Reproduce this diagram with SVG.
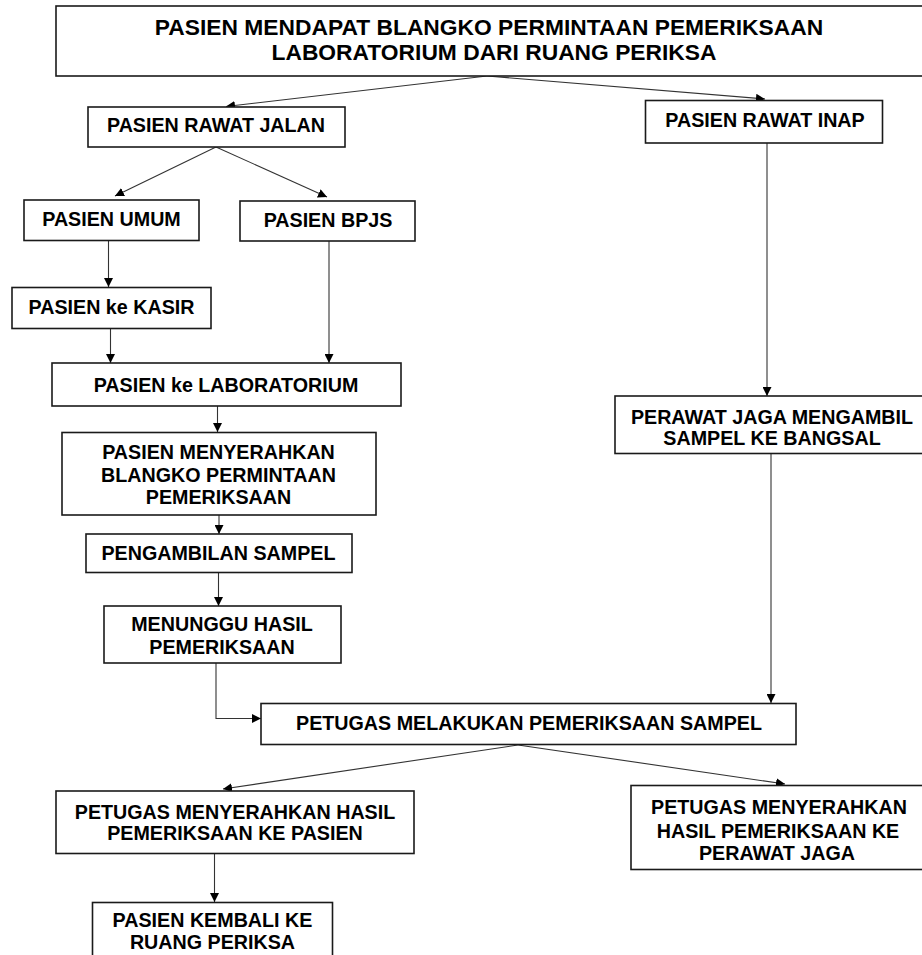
<svg xmlns="http://www.w3.org/2000/svg" width="922" height="955" viewBox="0 0 922 955">
<style>
.box{fill:#fff;stroke:#1a1a1a;stroke-width:1.6}
.t{font-family:"Liberation Sans",Arial,sans-serif;font-weight:bold;font-size:19.7px;fill:#000;text-anchor:middle}
.tb{font-size:22.8px}
.c{fill:none;stroke:#333;stroke-width:1.1}
</style>
<defs>
<marker id="ah" markerUnits="userSpaceOnUse" markerWidth="9" markerHeight="9" viewBox="0 0 10 10" refX="10" refY="5" orient="auto">
<path d="M0,0 L10,5 L0,10 z" fill="#000"/>
</marker>
</defs>
<rect width="922" height="955" fill="#fff"/>
<g id="connectors">
<path class="c" marker-end="url(#ah)" d="M487,76 L226,106.5"/>
<path class="c" marker-end="url(#ah)" d="M487,76 L765,99"/>
<path class="c" marker-end="url(#ah)" d="M216,147 L115,196"/>
<path class="c" marker-end="url(#ah)" d="M216,147 L327,197"/>
<path class="c" marker-end="url(#ah)" d="M108.5,241 L108.5,287"/>
<path class="c" marker-end="url(#ah)" d="M110.5,328.5 L110.5,363"/>
<path class="c" marker-end="url(#ah)" d="M329,241 L329,363"/>
<path class="c" marker-end="url(#ah)" d="M217.5,406 L217.5,432"/>
<path class="c" marker-end="url(#ah)" d="M219,515 L219,534"/>
<path class="c" marker-end="url(#ah)" d="M218.5,572.5 L218.5,606"/>
<path class="c" marker-end="url(#ah)" d="M216,663 L216,718.5 L261,718.5"/>
<path class="c" marker-end="url(#ah)" d="M767,143 L767,396"/>
<path class="c" marker-end="url(#ah)" d="M771,453.5 L771,703"/>
<path class="c" marker-end="url(#ah)" d="M518,745 L223,789"/>
<path class="c" marker-end="url(#ah)" d="M518,745 L785,784"/>
<path class="c" marker-end="url(#ah)" d="M214.5,853.5 L214.5,902"/>
</g>
<g id="n-top"><rect class="box" x="56" y="6" width="875" height="70"/>
<text class="t tb" x="489" y="35">PASIEN MENDAPAT BLANGKO PERMINTAAN PEMERIKSAAN</text>
<text class="t tb" x="494" y="60">LABORATORIUM DARI RUANG PERIKSA</text></g>
<g id="n-jalan"><rect class="box" x="88" y="107" width="257" height="40"/>
<text class="t" x="216" y="132">PASIEN RAWAT JALAN</text></g>
<g id="n-inap"><rect class="box" x="645.5" y="100.5" width="237" height="42.5"/>
<text class="t" x="765" y="127">PASIEN RAWAT INAP</text></g>
<g id="n-umum"><rect class="box" x="24" y="200" width="175" height="40.5"/>
<text class="t" x="111.5" y="226">PASIEN UMUM</text></g>
<g id="n-bpjs"><rect class="box" x="240" y="201" width="175" height="40"/>
<text class="t" x="328" y="227">PASIEN BPJS</text></g>
<g id="n-kasir"><rect class="box" x="12" y="287.5" width="199" height="41"/>
<text class="t" x="111.5" y="313.5">PASIEN ke KASIR</text></g>
<g id="n-lab"><rect class="box" x="52" y="363" width="349" height="43"/>
<text class="t" x="226" y="391.5">PASIEN ke LABORATORIUM</text></g>
<g id="n-blangko"><rect class="box" x="62" y="432.5" width="314" height="82.5"/>
<text class="t" x="218.5" y="458.5">PASIEN MENYERAHKAN</text>
<text class="t" x="218.5" y="481.5">BLANGKO PERMINTAAN</text>
<text class="t" x="218.5" y="504">PEMERIKSAAN</text></g>
<g id="n-ambil"><rect class="box" x="86" y="534" width="266" height="38.5"/>
<text class="t" x="218.5" y="560">PENGAMBILAN SAMPEL</text></g>
<g id="n-tunggu"><rect class="box" x="104" y="606" width="237" height="57"/>
<text class="t" x="222" y="631">MENUNGGU HASIL</text>
<text class="t" x="222" y="653.5">PEMERIKSAAN</text></g>
<g id="n-perawat"><rect class="box" x="615" y="396" width="315" height="57.5"/>
<text class="t" x="772" y="423.5">PERAWAT JAGA MENGAMBIL</text>
<text class="t" x="772" y="445">SAMPEL KE BANGSAL</text></g>
<g id="n-periksa"><rect class="box" x="261" y="703.5" width="535" height="41"/>
<text class="t" x="529" y="730">PETUGAS MELAKUKAN PEMERIKSAAN SAMPEL</text></g>
<g id="n-hasil-pasien"><rect class="box" x="56" y="791" width="358" height="62.5"/>
<text class="t" x="235" y="818.5">PETUGAS MENYERAHKAN HASIL</text>
<text class="t" x="235" y="840">PEMERIKSAAN KE PASIEN</text></g>
<g id="n-hasil-perawat"><rect class="box" x="631" y="785.5" width="300" height="84"/>
<text class="t" x="779" y="813.5">PETUGAS MENYERAHKAN</text>
<text class="t" x="778" y="837.5">HASIL PEMERIKSAAN KE</text>
<text class="t" x="777" y="860">PERAWAT JAGA</text></g>
<g id="n-kembali"><rect class="box" x="92.5" y="902.5" width="240" height="60"/>
<text class="t" x="212.5" y="927">PASIEN KEMBALI KE</text>
<text class="t" x="212.5" y="948.5">RUANG PERIKSA</text></g>
</svg>
